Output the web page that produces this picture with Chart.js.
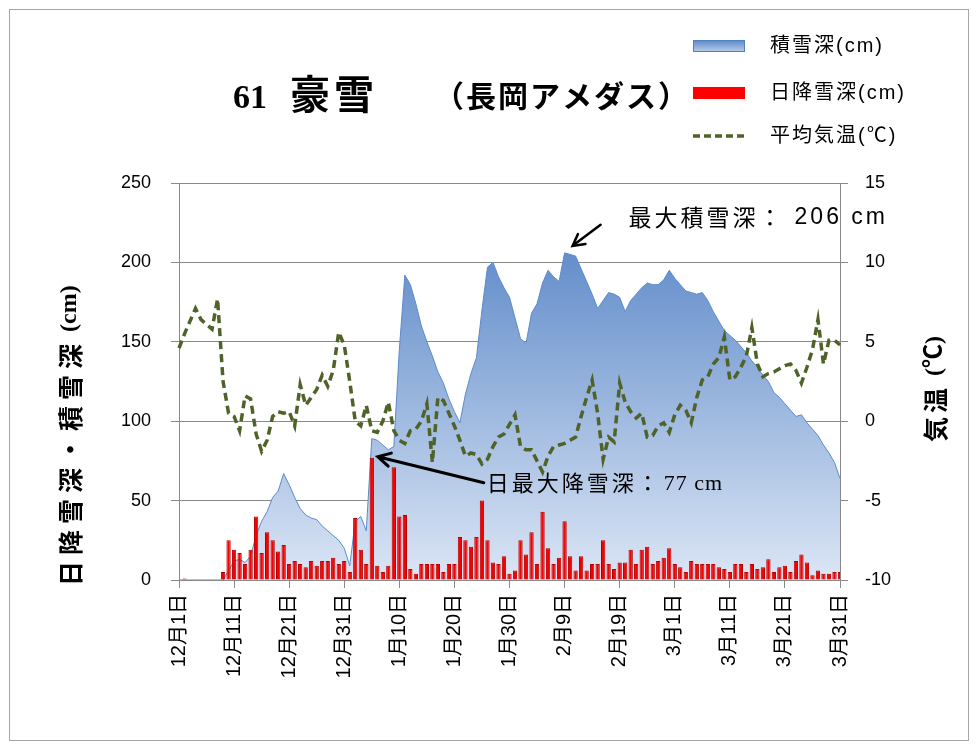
<!DOCTYPE html>
<html lang="ja">
<head>
<meta charset="utf-8">
<title>61豪雪 長岡アメダス</title>
<script src="https://cdn.jsdelivr.net/npm/chart.js@4.4.1/dist/chart.umd.min.js"></script>
<style>
    html, body { margin: 0; padding: 0; background: #fff; }
    #wrap { position: relative; width: 979px; height: 744px; }
</style>
</head>
<body>
<div id="wrap"><canvas id="snowChart" width="979" height="744"></canvas></div>
<script>
// Dec 1 (1985) .. Mar 31 (1986), one value per day
const months = [['12', 31], ['1', 31], ['2', 28], ['3', 31]];
const tickEvery = 10;

// 積雪深 (cm)
const snowDepth = [
    0, 0, 0, 0, 0, 0, 0, 0, 0, 6,
    12, 13, 11, 15, 28, 37, 43, 52, 56, 67,
    60, 52, 45, 41, 39, 38, 34, 31, 28, 25,
    20, 9, 37, 40, 31, 89, 88, 85, 82, 84,
    145, 192, 186, 174, 160, 150, 141, 131, 124, 114,
    106, 99, 117, 130, 140, 170, 197, 200, 191, 184,
    178, 165, 152, 149, 168, 174, 187, 195, 191, 188,
    206, 205, 204, 196, 188, 180, 171, 176, 181, 180,
    178, 169, 176, 180, 184, 187, 186, 186, 189, 195,
    190, 186, 182, 181, 180, 181, 176, 169, 163, 157,
    154, 151, 147, 143, 138, 134, 129, 125, 118, 115,
    111, 107, 103, 104, 99, 95, 91, 85, 80, 74,
    64
];

// 日降雪深 (cm)
const snowFall = [
    0, 1, 0, 0, 0, 0, 0, 0, 5, 25,
    19, 17, 10, 19, 40, 17, 30, 25, 18, 22,
    10, 12, 10, 8, 12, 9, 12, 12, 14, 10,
    12, 5, 39, 19, 10, 77, 9, 5, 9, 71,
    40, 41, 7, 4, 10, 10, 10, 10, 5, 10,
    10, 27, 25, 21, 27, 50, 25, 11, 10, 15,
    4, 6, 25, 16, 30, 10, 43, 20, 10, 14,
    37, 15, 6, 15, 6, 10, 10, 25, 10, 7,
    11, 11, 19, 10, 19, 21, 10, 12, 14, 20,
    10, 8, 5, 12, 10, 10, 10, 10, 8, 7,
    5, 10, 10, 5, 10, 7, 8, 13, 5, 8,
    9, 5, 12, 16, 11, 3, 6, 4, 4, 5,
    5
];

// 平均気温 (℃)
const meanTemp = [
    4.6, 5.5, 6.3, 7.1, 6.4, 6.1, 5.8, 7.7, 2.5, 0.5,
    0.3, -0.6, 1.6, 1.4, -0.8, -1.9, -1.2, 0.3, 0.6, 0.5,
    0.6, -0.3, 2.3, 1.0, 1.5, 2.0, 2.9, 2.2, 3.2, 5.6,
    4.8, 2.5, 0.0, -0.3, 1.0, -0.6, -0.7, 0.0, 1.2, -0.6,
    -1.2, -1.4, -0.6, -0.5, 0.0, 1.1, -2.6, 1.5, 1.3, 0.5,
    -0.3, -1.2, -2.2, -2.0, -2.1, -2.7, -2.4, -1.6, -1.0, -0.8,
    -0.2, 0.4, -1.6, -1.8, -1.8, -2.5, -3.2, -2.2, -1.6, -1.5,
    -1.4, -1.2, -1.0, 0.3, 1.5, 2.6, 0.5, -2.4, -1.0, -1.3,
    2.4, 1.2, 0.6, 0.2, 0.5, -1.0, -0.9, -0.3, -0.1, -0.7,
    0.4, 1.0, 0.7, -0.1, 1.5, 2.6, 2.8, 3.6, 4.0, 5.3,
    2.6, 2.8, 3.4, 4.1, 5.9, 3.6, 2.8, 3.0, 3.1, 3.3,
    3.5, 3.6, 3.2, 2.4, 3.4, 4.5, 6.4, 3.6, 5.1, 5.1,
    4.8
];

const dayLabels = [];
months.forEach(([m, n]) => {
    for (let d = 1; d <= n; d++) dayLabels.push(`${m}月${d}日`);
});

const FONT = '"Liberation Sans", "Noto Sans CJK JP", sans-serif';
const JP = '"Noto Sans CJK JP", sans-serif';
const GRID = '#898989';

function areaGradient(ctx, top, bottom) {
    const g = ctx.createLinearGradient(0, top, 0, bottom);
    g.addColorStop(0, '#4a7bc2');
    g.addColorStop(1, '#dce6f5');
    return g;
}

function arrow(ctx, x1, y1, x2, y2, head, width) {
    // tail (x1,y1) -> tip (x2,y2), open head
    const a = Math.atan2(y2 - y1, x2 - x1);
    ctx.save();
    ctx.strokeStyle = '#000';
    ctx.lineWidth = width;
    ctx.lineCap = 'round';
    ctx.beginPath();
    ctx.moveTo(x1, y1);
    ctx.lineTo(x2, y2);
    ctx.moveTo(x2 - head * Math.cos(a - 0.5), y2 - head * Math.sin(a - 0.5));
    ctx.lineTo(x2, y2);
    ctx.lineTo(x2 - head * Math.cos(a + 0.5), y2 - head * Math.sin(a + 0.5));
    ctx.stroke();
    ctx.restore();
}

const decor = {
    id: 'decor',
    beforeDraw(chart) {
        const ctx = chart.ctx;
        ctx.save();
        ctx.fillStyle = '#fff';
        ctx.fillRect(0, 0, chart.width, chart.height);
        ctx.strokeStyle = '#a6a6a6';
        ctx.lineWidth = 1;
        ctx.strokeRect(9.5, 9.5, 959, 731);
        ctx.restore();
    },
    afterDraw(chart) {
        const ctx = chart.ctx;
        const xs = chart.scales.x, ys = chart.scales.y;
        ctx.save();
        ctx.fillStyle = '#000';
        ctx.textBaseline = 'alphabetic';

        // title
        ctx.font = 'bold 34px "Liberation Serif", serif';
        ctx.fillText('61', 233, 108);
        ctx.font = 'bold 40px ' + JP;
        ctx.letterSpacing = '4px';
        ctx.fillText('豪雪', 290, 109);
        ctx.font = 'bold 30px ' + JP;
        ctx.letterSpacing = '2px';
        ctx.fillText('（長岡アメダス）', 434, 107);
        ctx.letterSpacing = '0px';

        // legend
        ctx.fillStyle = areaGradient(ctx, 38, 56);
        ctx.fillRect(693, 40, 52, 12);
        ctx.strokeStyle = '#4f81bd';
        ctx.lineWidth = 1;
        ctx.strokeRect(693.5, 40.5, 51, 11);
        ctx.fillStyle = '#ff0000';
        ctx.fillRect(693, 87, 52, 12);
        ctx.strokeStyle = '#4f6228';
        ctx.lineWidth = 3.5;
        ctx.setLineDash([7, 4]);
        ctx.beginPath();
        ctx.moveTo(693, 136);
        ctx.lineTo(747, 136);
        ctx.stroke();
        ctx.setLineDash([]);
        ctx.fillStyle = '#000';
        ctx.font = '20px ' + FONT;
        ctx.textBaseline = 'middle';
        ctx.letterSpacing = '2px';
        ctx.fillText('積雪深(cm)', 770, 46);
        ctx.fillText('日降雪深(cm)', 770, 93);
        ctx.fillText('平均気温(℃)', 770, 136);
        ctx.letterSpacing = '0px';

        // axis titles (rotated, read bottom to top)
        ctx.textAlign = 'left';
        ctx.save();
        ctx.translate(70, 586);
        ctx.rotate(-Math.PI / 2);
        ctx.font = 'bold 25px ' + JP;
        ctx.letterSpacing = '6px';
        const leftJp = '日降雪深・積雪深';
        ctx.fillText(leftJp, 0, 0);
        const w1 = ctx.measureText(leftJp).width;
        ctx.letterSpacing = '0px';
        ctx.font = 'bold 24px "Liberation Serif", serif';
        ctx.fillText('(cm)', w1 + 6, 0);
        ctx.restore();

        ctx.save();
        ctx.translate(935, 442);
        ctx.rotate(-Math.PI / 2);
        ctx.font = 'bold 25px ' + JP;
        ctx.letterSpacing = '4px';
        ctx.fillText('気温', 0, 0);
        const w2 = ctx.measureText('気温').width;
        ctx.letterSpacing = '0px';
        ctx.font = 'bold 24px "Liberation Serif", "Noto Sans CJK JP", serif';
        ctx.fillText('(℃)', w2 + 8, 0);
        ctx.restore();

        // annotations
        const maxDepth = Math.max(...snowDepth);
        const iDepth = snowDepth.indexOf(maxDepth);
        const px = xs.getPixelForValue(iDepth), py = ys.getPixelForValue(maxDepth);
        arrow(ctx, px + 36, py - 28, px + 8, py - 7, 13, 2.5);
        ctx.textBaseline = 'middle';
        ctx.font = '23px ' + JP;
        ctx.letterSpacing = '3px';
        ctx.fillText('最大積雪深：', px + 64, py - 36);
        const w3 = ctx.measureText('最大積雪深：').width;
        ctx.letterSpacing = '3px';
        ctx.font = '23px "Liberation Sans", sans-serif';
        ctx.fillText(`${maxDepth} cm`, px + 64 + w3 + 10, py - 35);

        const maxFall = Math.max(...snowFall);
        const iFall = snowFall.indexOf(maxFall);
        const bx = xs.getPixelForValue(iFall), by = ys.getPixelForValue(maxFall);
        arrow(ctx, bx + 112, by + 25, bx + 6, by - 1, 14, 3);
        ctx.font = '22px ' + JP;
        ctx.letterSpacing = '3px';
        ctx.fillText('日最大降雪深：', bx + 115, by + 25);
        const w4 = ctx.measureText('日最大降雪深：').width;
        ctx.letterSpacing = '1px';
        ctx.font = '22px "Liberation Serif", serif';
        ctx.fillText(`${maxFall} cm`, bx + 115 + w4 + 2, by + 26);
        ctx.restore();
    }
};

new Chart(document.getElementById('snowChart'), {
    type: 'bar',
    data: {
        labels: dayLabels,
        datasets: [
            {
                label: '平均気温(℃)',
                type: 'line',
                data: meanTemp,
                yAxisID: 'y2',
                borderColor: '#4f6228',
                borderWidth: 3.5,
                borderDash: [8, 5],
                pointRadius: 0,
                tension: 0,
                fill: false,
                order: 1
            },
            {
                label: '日降雪深(cm)',
                data: snowFall,
                yAxisID: 'y',
                backgroundColor: '#f80000',
                borderColor: '#b40000',
                borderWidth: 1,
                borderSkipped: 'bottom',
                categoryPercentage: 1,
                barPercentage: 0.78,
                order: 2
            },
            {
                label: '積雪深(cm)',
                type: 'line',
                data: snowDepth,
                yAxisID: 'y',
                borderColor: '#5b8bcb',
                borderWidth: 1,
                pointRadius: 0,
                tension: 0,
                fill: 'origin',
                backgroundColor: (c) => {
                    const a = c.chart.chartArea;
                    if (!a) return '#a9c0e6';
                    return areaGradient(c.chart.ctx, a.top, a.bottom);
                },
                order: 3
            }
        ]
    },
    options: {
        responsive: false,
        devicePixelRatio: 1,
        animation: false,
        layout: { padding: { left: 79, right: 0, top: 183, bottom: 0 } },
        plugins: {
            legend: { display: false },
            tooltip: { enabled: false }
        },
        scales: {
            x: {
                offset: false,
                grid: {
                    offset: false,
                    drawOnChartArea: false,
                    drawTicks: true,
                    tickLength: 8,
                    color: GRID
                },
                border: { display: true, color: GRID },
                ticks: {
                    autoSkip: false,
                    minRotation: 90,
                    maxRotation: 90,
                    padding: 6,
                    color: '#000',
                    font: { family: FONT, size: 20 },
                    callback: (v, i) => (i % tickEvery === 0 ? dayLabels[i] : null)
                },
                afterFit: (s) => { s.height = 164; }
            },
            y: {
                position: 'left',
                min: 0,
                max: 250,
                ticks: { stepSize: 50, padding: 20, color: '#000', font: { family: FONT, size: 18 } },
                grid: { color: GRID, tickLength: 8 },
                border: { display: true, color: GRID },
                afterFit: (s) => { s.width = 100; }
            },
            y2: {
                position: 'right',
                min: -10,
                max: 15,
                ticks: { stepSize: 5, padding: 17, color: '#000', font: { family: FONT, size: 18 } },
                grid: { drawOnChartArea: false, color: GRID, tickLength: 8 },
                border: { display: true, color: GRID },
                afterFit: (s) => { s.width = 139; }
            }
        }
    },
    plugins: [decor]
});
</script>
</body>
</html>
